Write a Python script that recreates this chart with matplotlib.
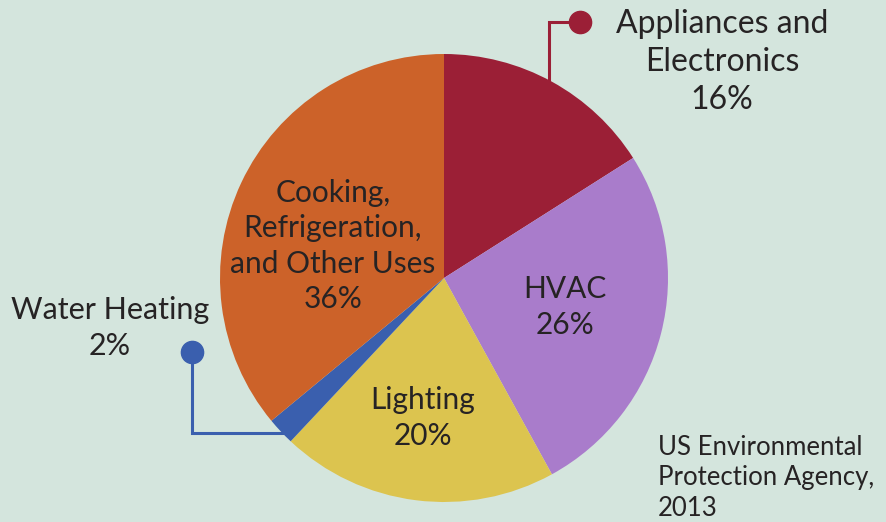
import matplotlib
matplotlib.use("Agg")
from matplotlib import pyplot as plt

# Energy use shares (percent)
categories = ["Appliances and Electronics", "HVAC", "Lighting", "Water Heating",
              "Cooking, Refrigeration, and Other Uses"]
shares = [16, 26, 20, 2, 36]
colors = ["#9b1f36", "#a97ccb", "#dcc44f", "#3a5fae", "#cc6229"]

BG = "#d4e5dd"
TXT = "#262324"
W, H = 887, 522

plt.rcParams["font.family"] = ["Lato", "DejaVu Sans"]

fig = plt.figure(figsize=(W / 100, H / 100), dpi=100, facecolor=BG)
ax = fig.add_axes([0, 0, 1, 1])
ax.set_facecolor(BG)

cx, cy, r = 444, H - 278, 224
ax.pie(shares, colors=colors, startangle=90, counterclock=False,
       center=(cx, cy), radius=r, wedgeprops=dict(linewidth=0), frame=True)
ax.set_xlim(0, W)
ax.set_ylim(0, H)
ax.set_aspect("equal")
ax.axis("off")

kw = dict(ha="center", va="center", color=TXT, linespacing=1.33)
# labels inside the pie
ax.text(333, H - 246, "Cooking,\nRefrigeration,\nand Other Uses\n36%", fontsize=21.5, **kw)
ax.text(565, H - 307, "HVAC\n26%", fontsize=21.5, **kw)
ax.text(423, H - 418, "Lighting\n20%", fontsize=21.5, **kw)

# outside labels
ax.text(722, H - 62, "Appliances and\nElectronics\n16%", fontsize=23, **kw)
ax.text(110, H - 328, "Water Heating\n2%", fontsize=22, **kw)

# connectors
ax.plot([580, 549, 549], [H - 22, H - 22, H - 80], color=colors[0], lw=2.2, solid_joinstyle="miter")
ax.plot([580], [H - 22], "o", color=colors[0], ms=16)
ax.plot([192, 192, 283], [H - 352, H - 433, H - 433], color=colors[3], lw=2.2, solid_joinstyle="miter")
ax.plot([192], [H - 352], "o", color=colors[3], ms=16)

# source
ax.text(658, H - 478, "US Environmental\nProtection Agency,\n2013", ha="left", va="center",
        fontsize=18.5, color=TXT, linespacing=1.28)

fig.savefig("out.png", dpi=100, facecolor=BG)
